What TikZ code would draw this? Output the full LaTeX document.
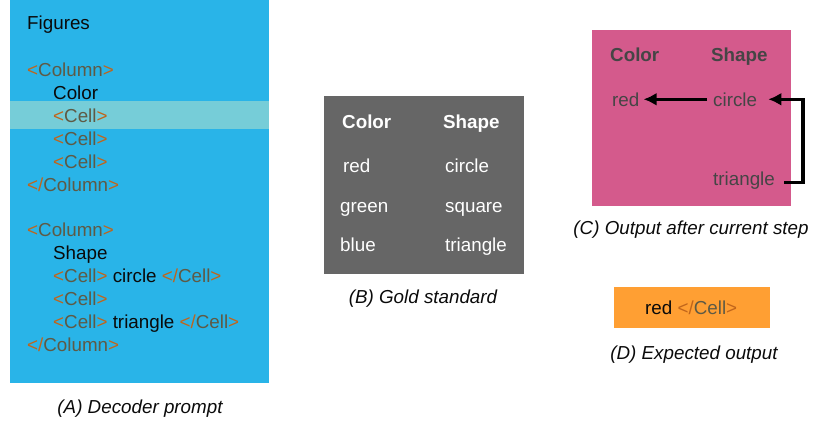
\documentclass[tikz,border=0pt]{standalone}
\usepackage{fontspec}
\setmainfont{Liberation Sans}
\usetikzlibrary{arrows.meta}

\definecolor{panelblue}{HTML}{29B4E8}
\definecolor{rowhi}{HTML}{76CDD8}
\definecolor{goldgray}{HTML}{666666}
\definecolor{outpink}{HTML}{D45A8C}
\definecolor{exporange}{HTML}{FF9F33}
\definecolor{tagbr}{HTML}{C0651B}
\definecolor{tagtx}{HTML}{5E5A45}
\definecolor{inktext}{HTML}{0A0A0A}
\definecolor{darkink}{HTML}{454545}

% markup tags: orange brackets, muted tag name
\newcommand{\opentag}[1]{{\color{tagbr}<}{\color{tagtx}#1}{\color{tagbr}>}}
\newcommand{\closetag}[1]{{\color{tagbr}</}{\color{tagtx}#1}{\color{tagbr}>}}

\begin{document}
\begin{tikzpicture}[x=1pt,y=-1pt,
  txt/.style={anchor=base west, inner sep=0pt,
              font=\fontsize{18.8}{22}\selectfont},
  head/.style={txt, font=\fontsize{18.8}{22}\selectfont\bfseries},
  caption/.style={anchor=base, inner sep=0pt, text=inktext,
                  font=\fontsize{18.8}{22}\selectfont\itshape},
  conn/.style={line width=3.2pt, black, -{Latex[length=13pt,width=13pt]}}]
\useasboundingbox (0,0) rectangle (825,423);

% (A) decoder prompt
\fill[panelblue] (10,0) rectangle (269,383);
\fill[rowhi] (10,101) rectangle (269,129);
\begin{scope}[every node/.append style={text=inktext}]
\node[txt] (fig) at (27,29) {Figures};
\node[txt] (colA) at (27,76) {\opentag{Column}};
\node[txt] (colAname) at (53,99) {Color};
\node[txt] (cellA1) at (53,122) {\opentag{Cell}};
\node[txt] (cellA2) at (53,145) {\opentag{Cell}};
\node[txt] (cellA3) at (53,168) {\opentag{Cell}};
\node[txt] (colAend) at (27,191) {\closetag{Column}};
\node[txt] (colB) at (27,236) {\opentag{Column}};
\node[txt] (colBname) at (53,259) {Shape};
\node[txt] (cellB1) at (53,282) {\opentag{Cell} circle \closetag{Cell}};
\node[txt] (cellB2) at (53,305) {\opentag{Cell}};
\node[txt] (cellB3) at (53,328) {\opentag{Cell} triangle \closetag{Cell}};
\node[txt] (colBend) at (27,351) {\closetag{Column}};
\end{scope}
\node[caption] (capA) at (140,413) {(A) Decoder prompt};

% (B) gold standard
\fill[goldgray] (324,96) rectangle (524,274);
\begin{scope}[every node/.append style={text=white}]
\node[head] (bColor) at (342,128) {Color};
\node[head] (bShape) at (443,128) {Shape};
\node[txt] (bRed) at (343,172) {red};
\node[txt] (bCircle) at (445,172) {circle};
\node[txt] (bGreen) at (340,212) {green};
\node[txt] (bSquare) at (445,212) {square};
\node[txt] (bBlue) at (340,251) {blue};
\node[txt] (bTriangle) at (445,251) {triangle};
\end{scope}
\node[caption] (capB) at (423,303) {(B) Gold standard};

% (C) output after current step
\fill[outpink] (592,30) rectangle (791,206);
\begin{scope}[every node/.append style={text=darkink}]
\node[head] (cColor) at (610,61) {Color};
\node[head] (cShape) at (711,61) {Shape};
\node[txt] (cRed) at (612,106) {red};
\node[txt] (cCircle) at (713,106) {circle};
\node[txt] (cTriangle) at (713,185) {triangle};
\end{scope}
\draw[conn, shorten <=6pt, shorten >=4pt] (cCircle.west) -- (cRed.east);
\draw[conn] ([xshift=9pt,yshift=-2pt]cTriangle.east) -- ++(19,0)
  |- ([xshift=11pt]cCircle.east);
\node[caption] (capC) at (691,234) {(C) Output after current step};

% (D) expected output
\fill[exporange] (614,287) rectangle (770,328);
\node[txt, text=inktext] (dOut) at (645,314) {red \closetag{Cell}};
\node[caption] (capD) at (694,359) {(D) Expected output};
\end{tikzpicture}
\end{document}
